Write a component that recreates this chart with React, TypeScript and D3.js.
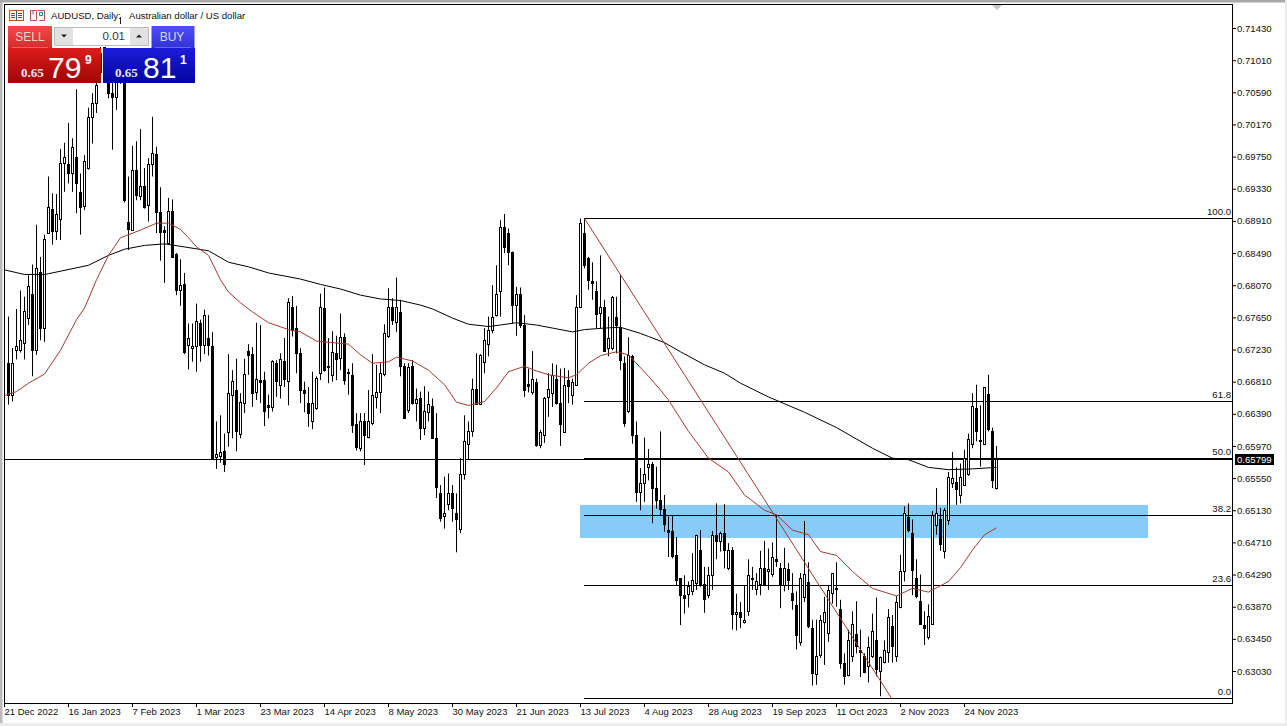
import React, { useEffect, useRef } from "react";
import * as d3 from "d3";

// daily AUDUSD candles
const highs = [
  0.6766, 0.6725, 0.6776, 0.68, 0.6792, 0.682, 0.6834, 0.6886, 0.6844, 0.6873,
  0.6949, 0.6927, 0.6926, 0.6985, 0.6993, 0.7019, 0.6999, 0.7063, 0.6953, 0.6977,
  0.7039, 0.7058, 0.7073, 0.7125, 0.713, 0.7095, 0.7075, 0.71, 0.71, 0.71,
  0.6949, 0.6989, 0.6995, 0.7011, 0.696, 0.6973, 0.7027, 0.6988, 0.6935, 0.6884,
  0.6921, 0.6919, 0.6849, 0.6841, 0.6823, 0.6757, 0.6757, 0.6783, 0.6762, 0.6775,
  0.6768, 0.6746, 0.6629, 0.6637, 0.6613, 0.6717, 0.6696, 0.6711, 0.6666, 0.6711,
  0.673, 0.6726, 0.6758, 0.6755, 0.6694, 0.6664, 0.6709, 0.6709, 0.6718, 0.6738,
  0.679, 0.6793, 0.678, 0.6725, 0.6681, 0.6674, 0.6694, 0.6688, 0.6796, 0.6804,
  0.6738, 0.6747, 0.6741, 0.677, 0.6744, 0.6698, 0.6705, 0.664, 0.664, 0.664,
  0.667, 0.6717, 0.6703, 0.6705, 0.6756, 0.6803, 0.679, 0.6817, 0.6788, 0.6705,
  0.6705, 0.6709, 0.6672, 0.6668, 0.6675, 0.6668, 0.6659, 0.664, 0.6546, 0.6557,
  0.6561, 0.6546, 0.6535, 0.6581, 0.6637, 0.6629, 0.6685, 0.6718, 0.6717, 0.6751,
  0.6766, 0.6807, 0.6833, 0.6892, 0.69, 0.6881, 0.6851, 0.6805, 0.6804, 0.6768,
  0.6698, 0.6721, 0.6685, 0.6618, 0.6661, 0.6692, 0.6705, 0.6703, 0.6698, 0.6699,
  0.6696, 0.6685, 0.6794, 0.6894, 0.6894, 0.6844, 0.6837, 0.6812, 0.6846, 0.6788,
  0.6766, 0.6793, 0.6792, 0.682, 0.6714, 0.6739, 0.6716, 0.6629, 0.6568, 0.6608,
  0.6593, 0.6576, 0.657, 0.6616, 0.6533, 0.6505, 0.6507, 0.6478, 0.6424, 0.6428,
  0.642, 0.6457, 0.6481, 0.6487, 0.6439, 0.6439, 0.6486, 0.6522, 0.6485, 0.6521,
  0.647, 0.6465, 0.6404, 0.6393, 0.6415, 0.6449, 0.6439, 0.6431, 0.646, 0.6473,
  0.6463, 0.6471, 0.6507, 0.6444, 0.6464, 0.6444, 0.6431, 0.6407, 0.6431, 0.6499,
  0.6445, 0.637, 0.637, 0.6376, 0.64, 0.6414, 0.6431, 0.6445, 0.6396, 0.6326,
  0.6357, 0.6381, 0.6394, 0.6357, 0.6326, 0.6348, 0.6378, 0.6399, 0.6322, 0.6343,
  0.6384, 0.6376, 0.6401, 0.6455, 0.6518, 0.6522, 0.6501, 0.6449, 0.6429, 0.6381,
  0.639, 0.6512, 0.6542, 0.6516, 0.6516, 0.6563, 0.6589, 0.6569, 0.6574, 0.6592,
  0.6613, 0.6666, 0.6677, 0.665, 0.6674, 0.669, 0.6621, 0.6597,
];

const lows = [
  0.6651, 0.6655, 0.671, 0.6719, 0.671, 0.6755, 0.6688, 0.6716, 0.6735, 0.6733,
  0.6874, 0.686, 0.6866, 0.6866, 0.6929, 0.694, 0.6929, 0.6901, 0.6873, 0.6905,
  0.6958, 0.6992, 0.7032, 0.7075, 0.708, 0.7051, 0.6984, 0.7036, 0.707, 0.6915,
  0.6853, 0.6878, 0.6918, 0.6918, 0.6907, 0.689, 0.6949, 0.6875, 0.6839, 0.681,
  0.6861, 0.6844, 0.6794, 0.678, 0.6717, 0.6697, 0.6707, 0.6694, 0.6707, 0.6717,
  0.6715, 0.6579, 0.6567, 0.6575, 0.6563, 0.6596, 0.6607, 0.659, 0.6607, 0.664,
  0.669, 0.6648, 0.6657, 0.6653, 0.6623, 0.6633, 0.6642, 0.6661, 0.6659, 0.6674,
  0.665, 0.674, 0.6692, 0.6653, 0.6641, 0.6622, 0.6619, 0.6644, 0.6683, 0.6694,
  0.6679, 0.6681, 0.6683, 0.6696, 0.6677, 0.6664, 0.6614, 0.6591, 0.659, 0.6572,
  0.6607, 0.6624, 0.6646, 0.664, 0.6688, 0.6738, 0.6755, 0.6746, 0.6688, 0.6633,
  0.664, 0.6651, 0.6629, 0.6605, 0.6611, 0.6629, 0.6606, 0.6529, 0.6498, 0.6489,
  0.6513, 0.6498, 0.6458, 0.6483, 0.6553, 0.6579, 0.6609, 0.6651, 0.6651, 0.6692,
  0.6714, 0.6744, 0.6766, 0.6766, 0.6849, 0.6833, 0.6757, 0.6741, 0.6751, 0.6661,
  0.6667, 0.6664, 0.6596, 0.6594, 0.6601, 0.6635, 0.6648, 0.6651, 0.6597, 0.6614,
  0.6653, 0.6651, 0.6677, 0.6777, 0.6829, 0.6801, 0.6788, 0.6751, 0.6751, 0.672,
  0.6714, 0.6722, 0.6718, 0.6696, 0.6622, 0.664, 0.66, 0.6524, 0.6513, 0.6524,
  0.6552, 0.6496, 0.6515, 0.6507, 0.6485, 0.6452, 0.645, 0.6415, 0.6363, 0.6378,
  0.6386, 0.6402, 0.6409, 0.6413, 0.6379, 0.6398, 0.6409, 0.6449, 0.6459, 0.6437,
  0.6435, 0.6357, 0.6356, 0.6359, 0.6365, 0.6375, 0.6409, 0.6402, 0.6402, 0.6417,
  0.6409, 0.6426, 0.6439, 0.6385, 0.6407, 0.6409, 0.6383, 0.6331, 0.6336, 0.6393,
  0.6359, 0.6284, 0.6285, 0.632, 0.6311, 0.6341, 0.6391, 0.6387, 0.6306, 0.6285,
  0.6296, 0.6315, 0.6326, 0.6295, 0.63, 0.6288, 0.632, 0.6296, 0.627, 0.6313,
  0.6314, 0.6314, 0.6315, 0.6385, 0.642, 0.6484, 0.6402, 0.6398, 0.6363, 0.6337,
  0.6344, 0.6363, 0.6481, 0.646, 0.645, 0.6494, 0.6542, 0.652, 0.6522, 0.6546,
  0.6558, 0.6594, 0.6603, 0.657, 0.6598, 0.6616, 0.6542, 0.654,
];

const opens = [
  0.6706, 0.6664, 0.6723, 0.6722, 0.6731, 0.6764, 0.6796, 0.6723, 0.6824, 0.6751,
  0.6875, 0.6907, 0.6878, 0.6894, 0.6966, 0.6965, 0.6954, 0.6975, 0.6929, 0.691,
  0.696, 0.7027, 0.7045, 0.7085, 0.712, 0.7075, 0.7058, 0.7053, 0.7085, 0.709,
  0.689, 0.6879, 0.6958, 0.6924, 0.6936, 0.6912, 0.6965, 0.6978, 0.6902, 0.6879,
  0.6862, 0.6904, 0.6848, 0.6801, 0.6809, 0.6729, 0.6725, 0.6727, 0.6757, 0.6729,
  0.6738, 0.6728, 0.6582, 0.6584, 0.659, 0.6615, 0.6663, 0.667, 0.6613, 0.6653,
  0.6721, 0.6717, 0.6667, 0.6683, 0.6683, 0.665, 0.6648, 0.6706, 0.6677, 0.6708,
  0.6682, 0.6779, 0.6751, 0.6718, 0.667, 0.6653, 0.663, 0.6647, 0.6692, 0.6777,
  0.6701, 0.669, 0.6718, 0.6712, 0.6739, 0.6694, 0.669, 0.6626, 0.6594, 0.6629,
  0.6609, 0.6627, 0.6661, 0.6667, 0.6691, 0.674, 0.6778, 0.6759, 0.6772, 0.6701,
  0.6644, 0.6701, 0.6653, 0.6659, 0.6621, 0.6641, 0.6649, 0.6608, 0.6536, 0.6505,
  0.6521, 0.6536, 0.651, 0.6488, 0.6561, 0.6599, 0.6616, 0.6671, 0.6652, 0.6707,
  0.673, 0.6749, 0.6768, 0.6799, 0.6883, 0.6875, 0.685, 0.6781, 0.6795, 0.6755,
  0.6678, 0.6667, 0.6681, 0.6598, 0.6611, 0.6661, 0.6666, 0.6685, 0.6653, 0.6615,
  0.6683, 0.6664, 0.6677, 0.6779, 0.6875, 0.6842, 0.6812, 0.6799, 0.6771, 0.6778,
  0.6725, 0.6725, 0.6766, 0.6753, 0.6705, 0.6643, 0.6714, 0.6611, 0.6537, 0.6549,
  0.6569, 0.6573, 0.6542, 0.6527, 0.6514, 0.6487, 0.6486, 0.6455, 0.6424, 0.6402,
  0.6404, 0.6408, 0.6418, 0.6461, 0.6417, 0.6402, 0.6428, 0.6481, 0.6473, 0.6483,
  0.6437, 0.6461, 0.6377, 0.638, 0.6367, 0.6382, 0.6425, 0.641, 0.6417, 0.6437,
  0.6433, 0.643, 0.6449, 0.6438, 0.6415, 0.6436, 0.6405, 0.6389, 0.6341, 0.64,
  0.6419, 0.6359, 0.6299, 0.6324, 0.6367, 0.6352, 0.6405, 0.641, 0.6384, 0.6313,
  0.6298, 0.6322, 0.6351, 0.633, 0.6322, 0.631, 0.6322, 0.6343, 0.6303, 0.6315,
  0.6328, 0.6362, 0.6322, 0.6386, 0.6433, 0.6504, 0.6483, 0.6425, 0.6395, 0.6363,
  0.6348, 0.6365, 0.6494, 0.6501, 0.646, 0.65, 0.6548, 0.655, 0.6533, 0.6546,
  0.656, 0.66, 0.6646, 0.6605, 0.6599, 0.6665, 0.6617, 0.6542,
];

const closes = [
  0.6664, 0.6706, 0.6728, 0.6735, 0.6773, 0.6806, 0.6723, 0.6829, 0.6751, 0.6867,
  0.6909, 0.6878, 0.69, 0.6966, 0.6975, 0.6954, 0.6987, 0.6941, 0.6909, 0.6969,
  0.7027, 0.7045, 0.7069, 0.711, 0.7095, 0.7058, 0.7053, 0.7075, 0.708, 0.6918,
  0.688, 0.6958, 0.6925, 0.6936, 0.6909, 0.6965, 0.698, 0.6902, 0.6877, 0.6877,
  0.6904, 0.6844, 0.6801, 0.6807, 0.672, 0.6738, 0.6728, 0.676, 0.6729, 0.6768,
  0.6729, 0.6581, 0.6587, 0.6589, 0.6574, 0.6666, 0.6682, 0.6617, 0.6654, 0.6691,
  0.6716, 0.6666, 0.6684, 0.6681, 0.6643, 0.6648, 0.6708, 0.6682, 0.6711, 0.6685,
  0.6785, 0.6748, 0.6718, 0.667, 0.6666, 0.664, 0.6653, 0.6686, 0.6779, 0.6696,
  0.67, 0.672, 0.6711, 0.6739, 0.6683, 0.6693, 0.6624, 0.6596, 0.6629, 0.6611,
  0.663, 0.6663, 0.6667, 0.6692, 0.6745, 0.6778, 0.6761, 0.6778, 0.6701, 0.6634,
  0.67, 0.6653, 0.6658, 0.6621, 0.6643, 0.6652, 0.6607, 0.6543, 0.6503, 0.651,
  0.6536, 0.6516, 0.6502, 0.6561, 0.6603, 0.6616, 0.6671, 0.6652, 0.6716, 0.6735,
  0.6749, 0.6765, 0.6796, 0.6883, 0.6857, 0.685, 0.6781, 0.6795, 0.6755, 0.667,
  0.6675, 0.6685, 0.6598, 0.6615, 0.6659, 0.6671, 0.669, 0.6653, 0.6626, 0.6677,
  0.6675, 0.668, 0.6779, 0.6888, 0.6833, 0.6814, 0.681, 0.677, 0.6778, 0.6721,
  0.6738, 0.6791, 0.6755, 0.6709, 0.6627, 0.6716, 0.6611, 0.6537, 0.6549, 0.656,
  0.6573, 0.6542, 0.6527, 0.6514, 0.6495, 0.6485, 0.6453, 0.6422, 0.6402, 0.6399,
  0.6414, 0.6422, 0.6481, 0.6417, 0.6397, 0.6428, 0.6481, 0.6473, 0.6483, 0.6461,
  0.6461, 0.6378, 0.638, 0.6374, 0.637, 0.6429, 0.6424, 0.642, 0.6438, 0.6417,
  0.6436, 0.6452, 0.6447, 0.6415, 0.6438, 0.6422, 0.6396, 0.635, 0.6425, 0.643,
  0.6362, 0.6301, 0.6323, 0.637, 0.638, 0.6409, 0.6431, 0.6412, 0.6313, 0.6296,
  0.6343, 0.6365, 0.6336, 0.6328, 0.6302, 0.6334, 0.6355, 0.6306, 0.6321, 0.6331,
  0.6373, 0.6336, 0.6393, 0.6433, 0.651, 0.6487, 0.6435, 0.6401, 0.6364, 0.6359,
  0.6375, 0.6507, 0.6509, 0.6469, 0.6513, 0.6556, 0.6555, 0.6541, 0.6556, 0.6581,
  0.6606, 0.6649, 0.6616, 0.6603, 0.6674, 0.6619, 0.6552, 0.65799,
];

// moving averages, read at the bars where the curve bends
const ma200Bars = [
  -1, 4, 9, 10, 20, 25, 29, 34, 39, 44, 50, 55, 60, 65, 73, 78, 83, 88, 93, 98, 103, 106, 111, 115, 120,
  123, 127, 132, 136, 141, 144, 149, 153, 158, 160, 164, 168, 174, 179, 183, 190, 199, 207, 216, 221,
  225, 230, 235, 241, 247,
];
const ma200Values = [
  0.6827, 0.6821, 0.6821, 0.6822, 0.6833, 0.6846, 0.6854, 0.6859, 0.6861, 0.6857, 0.6852, 0.6837, 0.6831,
  0.6823, 0.6815, 0.6808, 0.6802, 0.6794, 0.6789, 0.6787, 0.6781, 0.6776, 0.6764, 0.6756, 0.6753, 0.6755,
  0.6758, 0.6755, 0.6751, 0.6746, 0.6749, 0.6751, 0.6752, 0.6744, 0.674, 0.6732, 0.672, 0.6703, 0.6692,
  0.6679, 0.6661, 0.6641, 0.6621, 0.6594, 0.6581, 0.6579, 0.6569, 0.6566, 0.6567, 0.6569,
];
const ma50Bars = [
  -1, 2, 5, 9, 13, 17, 19, 22, 25, 28, 33, 37, 40, 43, 45, 47, 50, 53, 55, 58, 61, 65, 70, 73, 77, 81, 85,
  88, 91, 95, 97, 101, 105, 109, 112, 115, 119, 122, 125, 129, 132, 135, 140, 142, 145, 148, 152, 155,
  160, 163, 165, 170, 175, 180, 184, 189, 192, 196, 200, 203, 207, 211, 216, 222, 226, 230, 235, 238,
  241, 244, 247,
];
const ma50Values = [
  0.6663, 0.6668, 0.6679, 0.6691, 0.6722, 0.6762, 0.6777, 0.6814, 0.6846, 0.6869, 0.6879, 0.6888, 0.6888,
  0.688, 0.6869, 0.6857, 0.6846, 0.6814, 0.6798, 0.6784, 0.6772, 0.6758, 0.6749, 0.6746, 0.6734, 0.6732,
  0.673, 0.6716, 0.6705, 0.6707, 0.6713, 0.6708, 0.6696, 0.6677, 0.6654, 0.665, 0.6655, 0.6673, 0.6694,
  0.6701, 0.6695, 0.669, 0.6686, 0.669, 0.6705, 0.6715, 0.672, 0.6716, 0.6688, 0.667, 0.6657, 0.6616,
  0.6581, 0.6563, 0.6533, 0.6513, 0.6507, 0.6487, 0.6481, 0.6459, 0.6454, 0.6433, 0.6411, 0.6401, 0.6411,
  0.6406, 0.642, 0.6438, 0.6461, 0.6481, 0.649,
];

const priceTicks = [
  0.7143, 0.7101, 0.7059, 0.7017, 0.6975, 0.6933, 0.6891, 0.6849, 0.6807, 0.6765, 0.6723, 0.6681, 0.6639,
  0.6597, 0.6555, 0.6513, 0.6471, 0.6429, 0.6387, 0.6345, 0.6303,
];
const dateBars = [-1, 15, 31, 47, 63, 79, 95, 111, 127, 143, 159, 175, 191, 207, 223, 239];
const dateLabels = [
  "21 Dec 2022", "16 Jan 2023", "7 Feb 2023", "1 Mar 2023", "23 Mar 2023", "14 Apr 2023", "8 May 2023",
  "30 May 2023", "21 Jun 2023", "13 Jul 2023", "4 Aug 2023", "28 Aug 2023", "19 Sep 2023", "11 Oct 2023",
  "2 Nov 2023", "24 Nov 2023",
];

const fibLevels = [0, 23.6, 38.2, 50, 61.8, 100];
const fibLow = 0.62671;
const fibHigh = 0.68941;
const fibStartBar = 144;
const bidPrice = 0.65799;
const zoneBars = [143, 285];
const zonePrices = [0.65199, 0.64768];
const trendBars = [144, 220.8];
const trendPrices = [fibHigh, fibLow];

const FONT = "'Liberation Sans', sans-serif";
const WIDTH = 1287;
const HEIGHT = 726;
const LEFT = 4;
const RIGHT = 1232;
const TOP = 4;
const BOTTOM = 703;
const MA_RED = "#a33a32";

const x = d3.scaleLinear().domain([0, 247]).range([8, 996]);
const y = d3.scaleLinear().domain([0.7143, 0.6303]).range([28, 671]);

const bars = d3.range(highs.length);

function maPath(barList: number[], values: number[]) {
  const line = d3
    .line<number>()
    .x((b) => x(b) + 0.5)
    .y((_, i) => y(values[i]));
  return line(barList) ?? "";
}

function TradePanel() {
  return (
    <g fontFamily="'Liberation Sans', sans-serif">
      <defs>
        <linearGradient id="sellTop" x1="0" y1="0" x2="0" y2="1">
          <stop offset="0" stopColor="#f24a4a" />
          <stop offset="1" stopColor="#d52a2a" />
        </linearGradient>
        <linearGradient id="sellBottom" x1="0" y1="0" x2="0" y2="1">
          <stop offset="0" stopColor="#dc1c1c" />
          <stop offset="1" stopColor="#a00505" />
        </linearGradient>
        <linearGradient id="buyTop" x1="0" y1="0" x2="0" y2="1">
          <stop offset="0" stopColor="#4f4ff2" />
          <stop offset="1" stopColor="#3030d8" />
        </linearGradient>
        <linearGradient id="buyBottom" x1="0" y1="0" x2="0" y2="1">
          <stop offset="0" stopColor="#1c1cd8" />
          <stop offset="1" stopColor="#0404a0" />
        </linearGradient>
      </defs>
      <rect x={8} y={26} width={187} height={21} fill="#fff" />
      <rect x={8} y={26} width={44} height={23} fill="url(#sellTop)" />
      <line x1={12} x2={48} y1={48} y2={48} stroke="#f3a0a0" />
      <text x={30} y={41} textAnchor="middle" fontSize={12} fill="#f4d0d0">SELL</text>
      <rect x={8} y={48} width={93} height={35} fill="url(#sellBottom)" />
      <text x={21} y={77} fontSize={13} fontWeight="bold" fontFamily="'Liberation Serif', serif" fill="#fbe6e6">0.65</text>
      <text x={48} y={77.5} fontSize={30} fill="#fff">79</text>
      <text x={85} y={64} fontSize={12} fontWeight="bold" fill="#fff">9</text>

      <rect x={151.5} y={26} width={43} height={23} fill="url(#buyTop)" />
      <line x1={155} x2={191} y1={48} y2={48} stroke="#a0a0f3" />
      <text x={172} y={41} textAnchor="middle" fontSize={12} fill="#d8d8fb">BUY</text>
      <rect x={103} y={48} width={92} height={35} fill="url(#buyBottom)" />
      <text x={115} y={77} fontSize={13} fontWeight="bold" fontFamily="'Liberation Serif', serif" fill="#e8e8fb">0.65</text>
      <text x={143} y={77.5} fontSize={30} fill="#fff">81</text>
      <text x={180} y={64} fontSize={12} fontWeight="bold" fill="#fff">1</text>

      <rect x={54.5} y={27.5} width={94} height={18} fill="#fff" stroke="#bdbdbd" />
      <rect x={55} y={28} width={18} height={17} fill="#e2e2e2" />
      <rect x={130} y={28} width={18} height={17} fill="#e2e2e2" />
      <path d="M61 34.5h6l-3 3z" fill="#222" />
      <path d="M136 37.5h6l-3 -3z" fill="#222" />
      <text x={125} y={40} textAnchor="end" fontSize={11.5} fill="#333">0.01</text>
    </g>
  );
}

function HeaderIcons() {
  return (
    <g fill="none" strokeWidth={1}>
      <rect x={9.5} y={10.5} width={14} height={10} stroke="#c0503a" fill="#fdf5f2" />
      <line x1={16.5} x2={16.5} y1={10.5} y2={20.5} stroke="#2f5f8f" />
      <path d="M11 13.5h4M11 15.5h4M11 17.5h4M18 13.5h4M18 15.5h4M18 17.5h4" stroke="#2f5f8f" />
      <path d="M30.5 10.5h6v10h-6zM37.5 10.5h7v10h-5" stroke="#c0503a" />
      <path d="M39.5 12.5h3v3h-3z M33 10.5v4" stroke="#2f7fa8" />
    </g>
  );
}

export default function App() {
  const priceAxisRef = useRef<SVGGElement>(null);
  const timeAxisRef = useRef<SVGGElement>(null);

  useEffect(() => {
    const priceAxis = d3
      .axisRight(y)
      .tickValues(priceTicks)
      .tickFormat((d) => d3.format(".5f")(d as number))
      .tickSize(4)
      .tickPadding(1);
    const pg = d3.select(priceAxisRef.current!).call(priceAxis as any);
    pg.select(".domain").remove();
    pg.selectAll("text").attr("font-family", FONT).attr("font-size", 9.6).attr("fill", "#111");

    const timeAxis = d3
      .axisBottom(x)
      .tickValues(dateBars)
      .tickFormat((_, i) => dateLabels[i])
      .tickSize(4)
      .tickPadding(1);
    const tg = d3.select(timeAxisRef.current!).call(timeAxis as any);
    tg.select(".domain").remove();
    tg.selectAll("text")
      .attr("font-family", FONT)
      .attr("font-size", 9.5)
      .attr("fill", "#111")
      .attr("text-anchor", "start")
      .attr("x", 0);
  }, []);

  const fibY = (lvl: number) => Math.floor(y(fibLow + ((fibHigh - fibLow) * lvl) / 100)) + 0.5;
  const bidY = Math.floor(y(bidPrice)) + 0.5;

  return (
    <svg
      width={WIDTH}
      height={HEIGHT}
      style={{ position: "absolute", left: 0, top: 0, display: "block", background: "#fff" }}
    >
      <defs>
        <clipPath id="plot">
          <rect x={LEFT + 1} y={TOP + 1} width={RIGHT - LEFT - 1} height={BOTTOM - TOP - 1} />
        </clipPath>
      </defs>

      <rect x={0} y={0} width={2.5} height={HEIGHT} fill="#b9b9b9" />
      <rect x={0} y={0} width={WIDTH} height={2.5} fill="#a8a8a8" />
      <rect x={0} y={723} width={WIDTH} height={3} fill="#ececec" />
      <rect x={1285} y={0} width={2} height={HEIGHT} fill="#ececec" />

      <g clipPath="url(#plot)">
        <rect
          x={x(zoneBars[0])}
          y={y(zonePrices[0])}
          width={x(zoneBars[1]) - x(zoneBars[0])}
          height={y(zonePrices[1]) - y(zonePrices[0])}
          fill="#87cbf8"
        />

        <line x1={LEFT} x2={RIGHT} y1={bidY} y2={bidY} stroke="#000" />
        {fibLevels.map((lvl) => (
          <line key={lvl} x1={x(fibStartBar)} x2={RIGHT} y1={fibY(lvl)} y2={fibY(lvl)} stroke="#000" />
        ))}

        {bars.map((i) => {
          const up = closes[i] >= opens[i];
          const cx = x(i) + 0.5;
          const top = Math.round(y(Math.max(opens[i], closes[i]))) + 0.5;
          const bot = Math.round(y(Math.min(opens[i], closes[i]))) + 0.5;
          return (
            <g key={i}>
              <line x1={cx} x2={cx} y1={y(highs[i])} y2={y(lows[i])} stroke="#000" />
              <rect
                x={cx - 1}
                y={top}
                width={2}
                height={Math.max(bot - top, 1)}
                fill={up ? "#fff" : "#000"}
                stroke="#000"
              />
            </g>
          );
        })}

        <path d={maPath(ma200Bars, ma200Values)} fill="none" stroke="#000" strokeWidth={1} />
        <path d={maPath(ma50Bars, ma50Values)} fill="none" stroke={MA_RED} strokeWidth={1} />
        <line
          x1={x(trendBars[0]) + 0.5}
          y1={y(trendPrices[0])}
          x2={x(trendBars[1]) + 0.5}
          y2={y(trendPrices[1])}
          stroke={MA_RED}
          strokeWidth={1}
        />
      </g>

      <rect x={LEFT + 0.5} y={TOP + 0.5} width={RIGHT - LEFT} height={BOTTOM - TOP} fill="none" stroke="#000" />
      <polygon points="992,5 1002,5 997,10" fill="#c8c8c8" />

      <g ref={priceAxisRef} transform={`translate(${RIGHT},0)`} />
      <g ref={timeAxisRef} transform={`translate(0,${BOTTOM})`} />

      {fibLevels.map((lvl) => (
        <text
          key={lvl}
          x={RIGHT - 1}
          y={fibY(lvl) - 3.5}
          textAnchor="end"
          fontFamily={FONT}
          fontSize={9.6}
          fill="#111"
        >
          {lvl.toFixed(1)}
        </text>
      ))}

      <rect x={1235} y={454} width={39} height={11} fill="#000" />
      <text x={1237} y={463} fontFamily={FONT} fontSize={9.6} fill="#fff">
        {d3.format(".5f")(bidPrice)}
      </text>

      <HeaderIcons />
      <text x={51} y={19} fontFamily={FONT} fontSize={9.6} fill="#111">
        AUDUSD, Daily:
      </text>
      <text x={129} y={19} fontFamily={FONT} fontSize={9.6} fill="#111">
        Australian dollar / US dollar
      </text>
      <line x1={120.5} x2={120.5} y1={17} y2={24} stroke="#222" />
      <TradePanel />
    </svg>
  );
}
